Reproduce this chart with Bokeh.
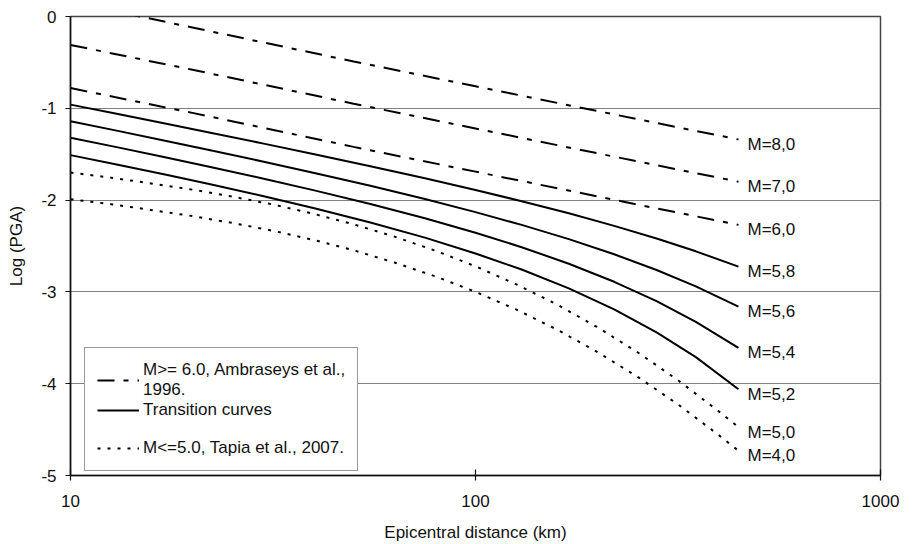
from bokeh.plotting import figure
from bokeh.models import Range1d, FixedTicker, Legend, LegendItem
from bokeh.core.properties import value
from bokeh.embed import file_html
from bokeh.resources import INLINE

FONT = "Liberation Sans"

# ---- data ----
amb_dist = [10, 20, 50, 100, 200, 446]
amb_m80 = [0.16, -0.12, -0.49, -0.76, -1.03, -1.34]
amb_m70 = [-0.31, -0.58, -0.95, -1.22, -1.49, -1.80]
amb_m60 = [-0.78, -1.05, -1.42, -1.69, -1.96, -2.27]

trans_dist = [10, 13, 17, 22, 30, 40, 55, 75, 100, 130, 170, 220, 280, 350, 446]
trans_m58 = [-0.96, -1.060, -1.163, -1.263, -1.385, -1.501, -1.632, -1.763, -1.890,
             -2.012, -2.144, -2.281, -2.419, -2.558, -2.725]
trans_m56 = [-1.14, -1.243, -1.350, -1.454, -1.582, -1.704, -1.844, -1.988, -2.131,
             -2.270, -2.425, -2.590, -2.761, -2.940, -3.160]
trans_m54 = [-1.32, -1.423, -1.531, -1.636, -1.767, -1.894, -2.042, -2.198, -2.355,
             -2.513, -2.693, -2.890, -3.101, -3.326, -3.610]
trans_m52 = [-1.51, -1.612, -1.719, -1.825, -1.958, -2.089, -2.244, -2.409, -2.581,
             -2.756, -2.962, -3.190, -3.441, -3.711, -4.060]

tapia_dist = [10, 12.6, 15.8, 20, 25.1, 31.6, 39.8, 50.1, 63.1, 79.4, 100,
              125.9, 158.5, 199.5, 251.2, 316.2, 398.1, 446]
tapia_m50 = [-1.70, -1.756, -1.818, -1.886, -1.962, -2.048, -2.149, -2.265, -2.398,
             -2.549, -2.721, -2.916, -3.135, -3.382, -3.657, -3.962, -4.299, -4.473]
tapia_m40 = [-1.99, -2.045, -2.107, -2.174, -2.249, -2.334, -2.434, -2.548, -2.680,
             -2.829, -2.999, -3.191, -3.408, -3.652, -3.924, -4.225, -4.558, -4.730]

curve_labels = ["M=8,0", "M=7,0", "M=6,0", "M=5,8", "M=5,6", "M=5,4", "M=5,2", "M=5,0", "M=4,0"]

x_ticks = [10, 100, 1000]
x_tick_labels = ["10", "100", "1000"]
y_ticks = [0, -1, -2, -3, -4, -5]
y_tick_labels = ["0", "-1", "-2", "-3", "-4", "-5"]

legend_labels = ["M>= 6.0, Ambraseys et al.,\n1996.", "Transition curves", " ",
                 "M<=5.0, Tapia et al., 2007."]

# ---- figure ----
p = figure(width=913, height=544, x_axis_type="log",
           x_range=Range1d(10, 1000), y_range=Range1d(-5, 0),
           output_backend="svg", toolbar_location=None,
           min_border_left=70, min_border_right=33,
           min_border_top=16, min_border_bottom=68,
           x_axis_label="Epicentral distance (km)", y_axis_label="Log (PGA)")
p.background_fill_color = "white"
p.border_fill_color = "white"
p.outline_line_color = "#444444"
p.outline_line_width = 1.5

p.xaxis.ticker = FixedTicker(ticks=x_ticks, minor_ticks=[])
p.xaxis.major_label_overrides = dict(zip(x_ticks, x_tick_labels))
p.yaxis.ticker = FixedTicker(ticks=y_ticks, minor_ticks=[])
p.yaxis.major_label_overrides = dict(zip(y_ticks, y_tick_labels))

for ax in (p.xaxis[0], p.yaxis[0]):
    ax.axis_line_color = "#111111"
    ax.axis_line_width = 1.5
    ax.major_tick_line_color = "#111111"
    ax.major_tick_line_width = 1.2
    ax.minor_tick_line_color = None
    ax.major_label_text_font = FONT
    ax.major_label_text_font_size = "17px"
    ax.major_label_text_color = "#111111"
    ax.axis_label_text_font = FONT
    ax.axis_label_text_font_size = "17px"
    ax.axis_label_text_font_style = "normal"
    ax.axis_label_text_color = "#111111"

p.yaxis.major_tick_out = 5
p.yaxis.major_tick_in = 0
p.yaxis.major_label_standoff = 9
p.yaxis.axis_label_standoff = 12
p.xaxis.major_tick_out = 5
p.xaxis.major_tick_in = 6
p.xaxis.major_label_standoff = 14
p.xaxis.axis_label_standoff = 13

p.xgrid.visible = False
p.ygrid.ticker = FixedTicker(ticks=y_ticks[1:-1])
p.ygrid.grid_line_color = "#808080"
p.ygrid.grid_line_width = 1.2

DASHDOT = "17 9 5 9"
DOTTED = "3 7"
LW = 2

r80 = p.line(amb_dist, amb_m80, line_color="black", line_width=LW, line_dash=DASHDOT)
r70 = p.line(amb_dist, amb_m70, line_color="black", line_width=LW, line_dash=DASHDOT)
r60 = p.line(amb_dist, amb_m60, line_color="black", line_width=LW, line_dash=DASHDOT)
r58 = p.line(trans_dist, trans_m58, line_color="black", line_width=LW)
r56 = p.line(trans_dist, trans_m56, line_color="black", line_width=LW)
r54 = p.line(trans_dist, trans_m54, line_color="black", line_width=LW)
r52 = p.line(trans_dist, trans_m52, line_color="black", line_width=LW)
r50 = p.line(tapia_dist, tapia_m50, line_color="black", line_width=LW, line_dash=DOTTED)
r40 = p.line(tapia_dist, tapia_m40, line_color="black", line_width=LW, line_dash=DOTTED)
rblank = p.line(x=[], y=[], line_alpha=0)

series = [(amb_dist, amb_m80), (amb_dist, amb_m70), (amb_dist, amb_m60),
          (trans_dist, trans_m58), (trans_dist, trans_m56), (trans_dist, trans_m54),
          (trans_dist, trans_m52), (tapia_dist, tapia_m50), (tapia_dist, tapia_m40)]
end_x = [s[0][-1] for s in series]
end_y = [s[1][-1] for s in series]
p.text(x=end_x, y=end_y, text=curve_labels, x_offset=9, y_offset=5,
       text_baseline="middle", text_align="left",
       text_font=value(FONT), text_font_size="17px", text_color="#111111")

legend = Legend(items=[
    LegendItem(label=legend_labels[0], renderers=[r80]),
    LegendItem(label=legend_labels[1], renderers=[r58]),
    LegendItem(label=legend_labels[2], renderers=[rblank]),
    LegendItem(label=legend_labels[3], renderers=[r50]),
], location=(14, 4))
legend.border_line_color = "#333333"
legend.border_line_width = 1
legend.background_fill_color = "white"
legend.background_fill_alpha = 1
legend.padding = 12
legend.margin = 0
legend.spacing = 0
legend.glyph_width = 42
legend.glyph_height = 16
legend.label_standoff = 4
legend.label_height = 18
legend.label_text_font = FONT
legend.label_text_font_size = "17px"
legend.label_text_line_height = 1.1
legend.label_text_color = "#111111"
p.add_layout(legend, "center")

open("out.html", "w").write(file_html(p, INLINE))
